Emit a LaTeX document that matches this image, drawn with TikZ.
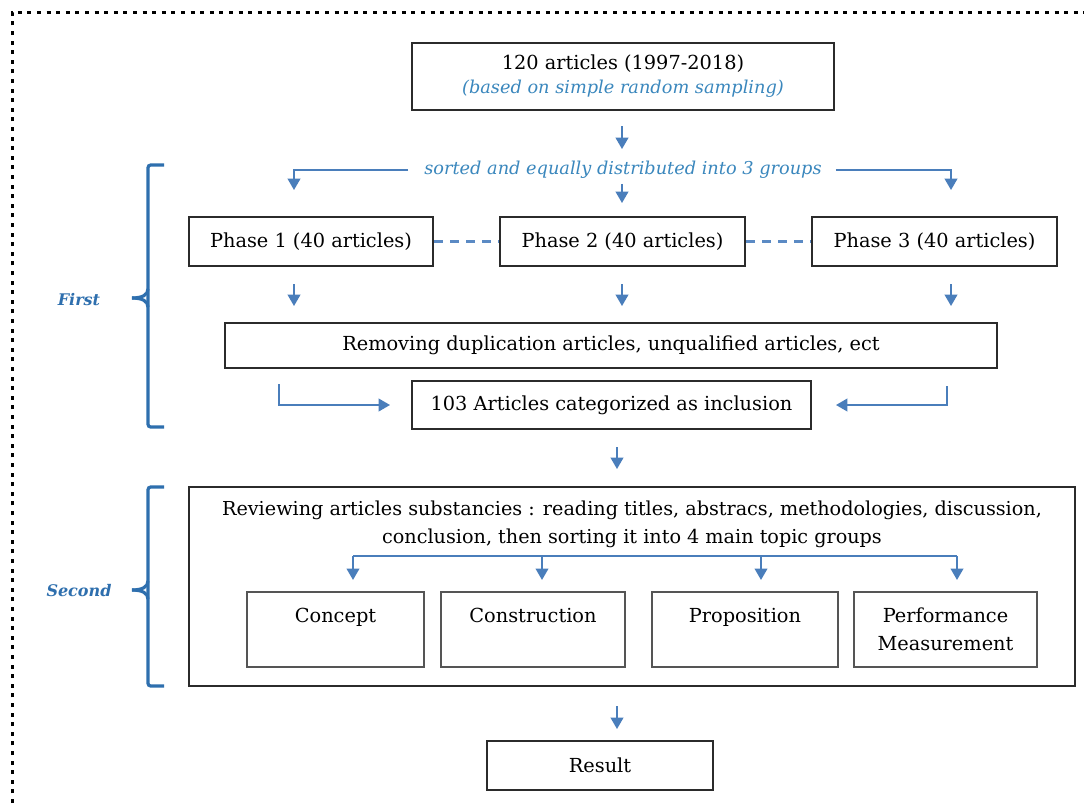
\documentclass[tikz,border=0pt]{standalone}
\usepackage{fontspec}
\setmainfont{DejaVu Serif}
\usetikzlibrary{arrows.meta,calc}
\definecolor{arrblue}{HTML}{4A7EBB}
\definecolor{dashblue}{HTML}{5B8AC4}
\definecolor{txtblue}{HTML}{3A87BD}
\definecolor{brkblue}{HTML}{2E6FAE}
\definecolor{boxgray}{HTML}{2B2B2B}
\definecolor{iboxgray}{HTML}{555555}
\begin{document}
\begin{tikzpicture}[x=0.75pt,y=-0.75pt,
  every node/.style={font=\fontsize{14.5}{18}\selectfont},
  box/.style 2 args={draw=boxgray, line width=1.5pt, minimum width=#1*0.75pt, minimum height=#2*0.75pt, inner sep=0pt, align=center},
  ibox/.style={draw=iboxgray, line width=1.1pt, minimum width=#1*0.75pt, minimum height=56.25pt, inner sep=0pt, align=center, font=\fontsize{14.5}{21}\selectfont},
  arr/.style={draw=arrblue, line width=1.3pt, -{Triangle[width=9.5pt,length=8.5pt]}},
  plainline/.style={draw=arrblue, line width=1.3pt},
  dashline/.style={draw=dashblue, line width=1.9pt, dash pattern=on 7pt off 5pt},
  brk/.style={draw=brkblue, line width=2.4pt},
  phaselabel/.style={text=brkblue, font=\bfseries\itshape\fontsize{12}{14}\selectfont}
]
\fill[white] (0,0) rectangle (1084,803);
\useasboundingbox (0,0) rectangle (1084,803);
% dotted frame
\draw[line width=2.25pt, dash pattern=on 3pt off 4.2pt] (12,803) -- (12,12) -- (1084,12);

% column coordinates
\coordinate (c1) at (294,0);
\coordinate (c1b) at (279,0);
\coordinate (c2) at (622,0);
\coordinate (c3) at (951,0);
\coordinate (c3b) at (947,0);
\coordinate (c4) at (617,0);

% nodes
\node[box={422}{67}] (top) at (623,76.5) {120 articles (1997-2018)\\{\color{txtblue}\itshape\fontsize{13.3}{18}\selectfont (based on simple random sampling)}};
\node[inner sep=0pt, text=txtblue, font=\itshape\fontsize{13.3}{18}\selectfont] (sorted) at (623,170) {sorted and equally distributed into 3 groups};
\node[box={244}{49}] (p1) at (311,241.5) {Phase 1 (40 articles)};
\node[box={245}{49}] (p2) at (622.5,241.5) {Phase 2 (40 articles)};
\node[box={245}{49}] (p3) at (934.5,241.5) {Phase 3 (40 articles)};
\node[box={772}{45}] (rem) at (611,345.5) {Removing duplication articles, unqualified articles, ect};
\node[box={399}{48}] (inc) at (611.5,405) {103 Articles categorized as inclusion};
\node[box={886}{199}] (big) at (632,586.5) {};
\node[inner sep=0pt, align=center, font=\fontsize{14.4}{21}\selectfont] (rev) at (632,524) {Reviewing articles substancies : reading titles, abstracs, methodologies, discussion,\\conclusion, then sorting it into 4 main topic groups};
\node[ibox=177] (concept) at (335.5,629.5) {Concept\\\mbox{}};
\node[ibox=184] (construction) at (533,629.5) {Construction\\\mbox{}};
\node[ibox=186] (proposition) at (745,629.5) {Proposition\\\mbox{}};
\node[ibox=183] (performance) at (945.5,629.5) {Performance\\Measurement};
\node[box={226}{49}] (result) at (600,765.5) {Result};
\node[phaselabel] (first) at (79,300) {First};
\node[phaselabel] (second) at (79,591) {Second};

% connectors
\draw[arr, shorten <=11.25pt, shorten >=9pt] (top.south -| c2) -- (sorted.north -| c2);
\draw[arr, shorten <=3.75pt, shorten >=9.75pt] (sorted.south -| c2) -- (p2.north -| c2);
\draw[arr, shorten <=12pt, shorten >=19.5pt] (sorted.west) -| (p1.north -| c1);
\draw[arr, shorten <=10.5pt, shorten >=19.5pt] (sorted.east) -| (p3.north -| c3);
\draw[dashline] (p1.east) -- (p2.west);
\draw[dashline] (p2.east) -- (p3.west);
\draw[arr, shorten <=12.75pt, shorten >=12pt] (p1.south -| c1) -- (rem.north -| c1);
\draw[arr, shorten <=12.75pt, shorten >=12pt] (p2.south -| c2) -- (rem.north -| c2);
\draw[arr, shorten <=12.75pt, shorten >=12pt] (p3.south -| c3) -- (rem.north -| c3);
\draw[arr, shorten <=11.25pt, shorten >=15.75pt] (rem.south -| c1b) |- (inc.west);
\draw[arr, shorten <=12.75pt, shorten >=18pt] (rem.south -| c3b) |- (inc.east);
\draw[arr, shorten <=12.75pt, shorten >=12.75pt] (inc.south -| c4) -- (big.north -| c4);

\coordinate (b1) at (353,556);
\coordinate (b2) at (542,556);
\coordinate (b3) at (761,556);
\coordinate (b4) at (957,556);
\draw[plainline] (b1) -- (b4);
\draw[arr, shorten >=8.5pt] (b1) -- (b1 |- concept.north);
\draw[arr, shorten >=8.5pt] (b2) -- (b2 |- construction.north);
\draw[arr, shorten >=8.5pt] (b3) -- (b3 |- proposition.north);
\draw[arr, shorten >=8.5pt] (b4) -- (b4 |- performance.north);
\draw[arr, shorten <=14.25pt, shorten >=8.25pt] (big.south -| c4) -- (result.north -| c4);

% brackets
\draw[brk, rounded corners=2pt] (164,165) -- (148,165) -- (148,427) -- (164,427);
\draw[brk] (148,289) .. controls (148,295) and (142,298) .. (132,298);
\draw[brk] (148,307) .. controls (148,301) and (142,298) .. (132,298);
\draw[brk, rounded corners=2pt] (164,487) -- (148,487) -- (148,686) -- (164,686);
\draw[brk] (148,581) .. controls (148,587) and (142,590) .. (132,590);
\draw[brk] (148,599) .. controls (148,593) and (142,590) .. (132,590);
\end{tikzpicture}
\end{document}
